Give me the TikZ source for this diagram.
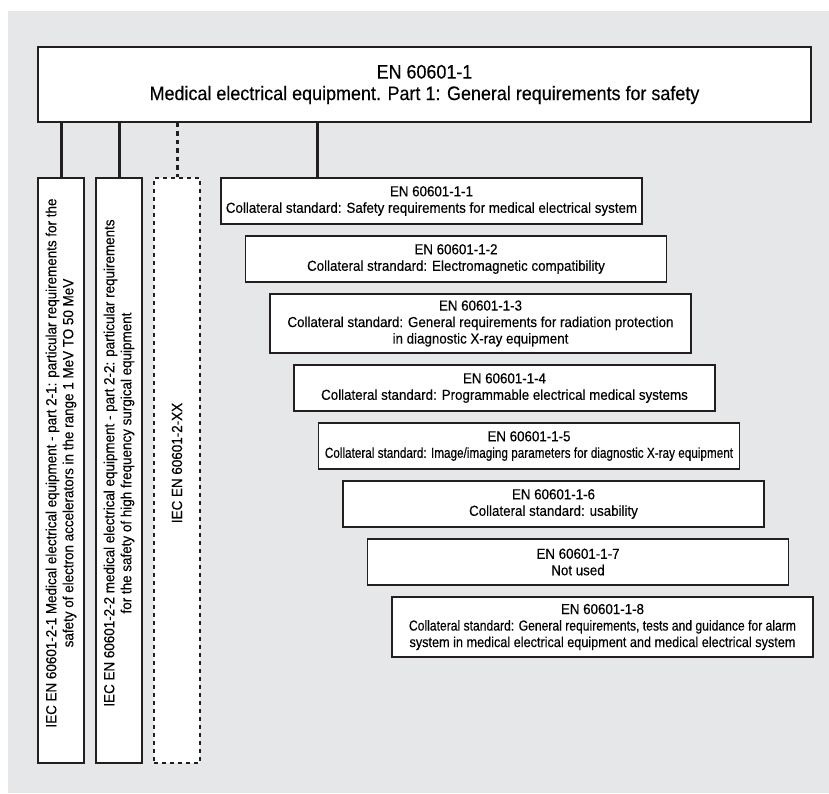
\documentclass[tikz,border=0pt]{standalone}
\usepackage{fontspec}
\usepackage{graphicx}
\setmainfont{Liberation Sans}[FakeStretch=0.92, FakeBold=0.3]
\definecolor{bgc}{HTML}{E6E7E8}
\definecolor{inkc}{HTML}{231F20}
\tikzset{
  frame/.style={draw=inkc, fill=white, line width=1.3pt, inner sep=0pt},
  sbox/.style={frame, minimum width=421pt, align=center, text=black,
    font=\fontsize{14.5}{16.5}\selectfont},
  vbox/.style={frame, minimum width=46pt, minimum height=585pt},
  vtext/.style={rotate=90, align=center, inner sep=0pt, text=black,
    font=\fontsize{14.6}{17}\selectfont},
  conn/.style={draw=inkc, line width=3pt},
  dconn/.style={draw=inkc, line width=3pt, dash pattern=on 4.5pt off 4pt},
}
\begin{document}
\begin{tikzpicture}[x=1pt,y=-1pt]
\useasboundingbox (0,0) rectangle (829,793);
\fill[bgc] (8,11) rectangle (829,793);
% top box
\node[frame, minimum width=773pt, minimum height=75pt, line width=1.5pt, align=center, text=black,
  font=\fontsize{19.5}{21.5}\selectfont] (top) at (424.5,84.5)
  {EN 60601-1\\Medical electrical equipment. Part 1: General requirements for safety};
% vertical boxes
\node[vbox] (v1) at (61,470.5) {};
\node[vbox] (v2) at (119,470.5) {};
\node[vbox, dash pattern=on 4pt off 4pt] (v3) at (177,470.5) {};
\node[vtext] (t1) at (61,463) {IEC EN 60601-2-1 Medical electrical equipment - part 2-1: particular requirements for the\\safety of electron accelerators in the range 1 MeV TO 50 MeV};
\node[vtext] (t2) at (119,463) {IEC EN 60601-2-2 medical electrical equipment - part 2-2: particular requirements\\for the safety of high frequency surgical equipment};
\node[vtext] (t3) at (177,463) {IEC EN 60601-2-XX};
% collateral standards
\node[sbox, minimum height=46pt] (s1) at (431.5,201) {EN 60601-1-1\\Collateral standard: Safety requirements for medical electrical system};
\node[sbox, minimum height=46pt] (s2) at (456,259) {EN 60601-1-2\\Collateral strandard: Electromagnetic compatibility};
\node[sbox, minimum height=59pt] (s3) at (480.5,323.5) {EN 60601-1-3\\Collateral standard: General requirements for radiation protection\\in diagnostic X-ray equipment};
\node[sbox, minimum height=46pt] (s4) at (504.5,388) {EN 60601-1-4\\Collateral standard: Programmable electrical medical systems};
\node[sbox, minimum height=46pt] (s5) at (529,446) {EN 60601-1-5\\\scalebox{0.88}[1]{Collateral standard: Image/imaging parameters for diagnostic X-ray equipment}};
\node[sbox, minimum height=46pt] (s6) at (553.5,504) {EN 60601-1-6\\Collateral standard: usability};
\node[sbox, minimum height=46pt] (s7) at (578,562) {EN 60601-1-7\\Not used};
\node[sbox, minimum height=60pt] (s8) at (602.5,627) {EN 60601-1-8\\\scalebox{0.91}[1]{Collateral standard: General requirements, tests and guidance for alarm}\\\scalebox{0.95}[1]{system in medical electrical equipment and medical electrical system}};
% connectors
\coordinate (j4) at (317,178);
\draw[conn] (top.south -| v1.north) -- (v1.north);
\draw[conn] (top.south -| v2.north) -- (v2.north);
\draw[dconn] (top.south -| v3.north) -- (v3.north);
\draw[conn] (top.south -| j4) -- (j4);
\end{tikzpicture}
\end{document}
